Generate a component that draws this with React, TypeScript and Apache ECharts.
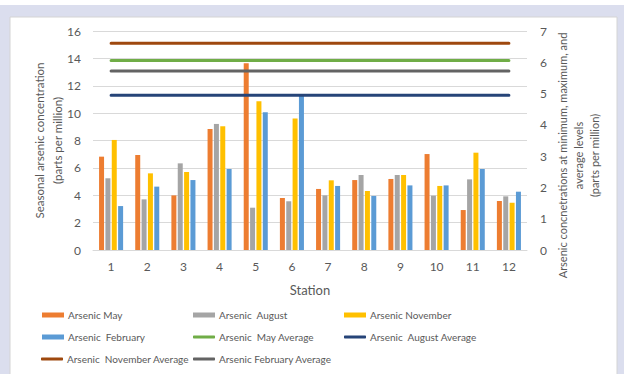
import React, { useEffect, useRef } from "react";
import * as echarts from "echarts";

const stations = ["1", "2", "3", "4", "5", "6", "7", "8", "9", "10", "11", "12"];
const arsenicMay = [6.82, 6.94, 3.99, 8.84, 13.64, 3.8, 4.46, 5.11, 5.19, 7.01, 2.92, 3.58];
const arsenicAugust = [5.24, 3.7, 6.33, 9.21, 3.09, 3.56, 3.99, 5.48, 5.48, 3.97, 5.16, 3.92];
const arsenicNovember = [8.04, 5.6, 5.7, 9.04, 10.86, 9.6, 5.09, 4.31, 5.48, 4.68, 7.11, 3.46];
const arsenicFebruary = [3.21, 4.63, 5.11, 5.92, 10.06, 11.28, 4.68, 3.95, 4.72, 4.72, 5.92, 4.26];
const mayAverage = 6.06;
const augustAverage = 4.95;
const novemberAverage = 6.61;
const februaryAverage = 5.72;

const leftTicks = { min: 0, max: 16, interval: 2 };
const rightTicks = { min: 0, max: 7, interval: 1 };

const FONT = "Lato, 'Liberation Sans', sans-serif";
const TXT = "#595959";

export default function App() {
  const ref = useRef<HTMLDivElement>(null);
  useEffect(() => {
    if (!ref.current) return;
    const chart = echarts.init(ref.current, null, { renderer: "svg" });
    const flat = (v: number) => stations.map(() => v);
    const barSeries = (name: string, data: number[], color: string) => ({
      name,
      type: "bar",
      yAxisIndex: 0,
      data,
      barWidth: 5,
      barGap: "27%",
      itemStyle: { color },
    });
    const lineSeries = (name: string, v: number, color: string) => ({
      name,
      type: "line",
      yAxisIndex: 1,
      data: flat(v),
      symbol: "none",
      lineStyle: { color, width: 3, cap: "round" },
      itemStyle: { color },
      z: 3,
    });
    const legendAt = (name: string, left: number, top: number, isLine: boolean) => ({
      data: [name],
      left,
      top,
      orient: "horizontal",
      icon: isLine ? "roundRect" : "rect",
      itemWidth: 22,
      itemHeight: isLine ? 3 : 5,
      itemGap: 0,
      textStyle: { color: TXT, fontSize: 10, fontFamily: FONT, padding: [0, 0, 0, -1] },
      padding: 0,
      selectedMode: false,
    });
    chart.setOption({
      animation: false,
      backgroundColor: "#dbdeee",
      textStyle: { fontFamily: FONT },
      graphic: [
        { type: "rect", shape: { x: 0, y: 0, width: 624, height: 5 }, style: { fill: "#ffffff" }, z: -10, silent: true },
        {
          type: "rect",
          shape: { x: 10, y: 17, width: 607, height: 362 },
          style: { fill: "#ffffff", stroke: "#d4d4d4", lineWidth: 1 },
          z: -10,
          silent: true,
        },
      ],
      grid: { left: 93, right: 97, top: 31, bottom: 124, outerBoundsMode: "none", containLabel: false },
      legend: [
        legendAt("Arsenic May", 42, 310, false),
        legendAt("Arsenic  August", 193, 310, false),
        legendAt("Arsenic November", 344, 310, false),
        legendAt("Arsenic  February", 42, 332, false),
        legendAt("Arsenic  May Average", 193, 332, true),
        legendAt("Arsenic  August Average", 344, 332, true),
        legendAt("Arsenic  November Average", 41, 354, true),
        legendAt("Arsenic February Average", 193, 354, true),
      ],
      xAxis: {
        type: "category",
        data: stations,
        name: "Station",
        nameLocation: "middle",
        nameGap: 33,
        nameMoveOverlap: false,
        nameTextStyle: { color: TXT, fontSize: 13, fontFamily: FONT },
        axisTick: { show: false },
        axisLine: { lineStyle: { color: "#d9d9d9" } },
        axisLabel: { color: TXT, fontSize: 12, margin: 10, fontFamily: FONT },
      },
      yAxis: [
        {
          type: "value",
          ...leftTicks,
          name: "Seasonal arsenic concentration\n(parts per million)",
          nameLocation: "middle",
          nameGap: 27,
          nameMoveOverlap: false,
          nameRotate: 90,
          nameTextStyle: { color: TXT, fontSize: 11.5, lineHeight: 18, fontFamily: FONT },
          axisLine: { show: false },
          axisTick: { show: false },
          axisLabel: { color: TXT, fontSize: 12, margin: 12, fontFamily: FONT },
          splitLine: { lineStyle: { color: "#d9d9d9" } },
        },
        {
          type: "value",
          ...rightTicks,
          position: "right",
          name: "Arsenic concnetrations at minimum, maximum, and\naverage levels\n(parts per million)",
          nameLocation: "middle",
          nameGap: 27,
          nameMoveOverlap: false,
          nameRotate: 90,
          nameTextStyle: {
            color: TXT,
            fontSize: 11,
            lineHeight: 16,
            fontFamily: FONT,
            align: "center",
            padding: [0, 30, 0, 0],
          },
          axisLine: { show: false },
          axisTick: { show: false },
          axisLabel: { color: TXT, fontSize: 12, margin: 13, fontFamily: FONT },
          splitLine: { show: false },
        },
      ],
      series: [
        barSeries("Arsenic May", arsenicMay, "#ED7D31"),
        barSeries("Arsenic  August", arsenicAugust, "#A5A5A5"),
        barSeries("Arsenic November", arsenicNovember, "#FFC000"),
        barSeries("Arsenic  February", arsenicFebruary, "#5B9BD5"),
        lineSeries("Arsenic  May Average", mayAverage, "#70AD47"),
        lineSeries("Arsenic  August Average", augustAverage, "#264478"),
        lineSeries("Arsenic  November Average", novemberAverage, "#9E480E"),
        lineSeries("Arsenic February Average", februaryAverage, "#636363"),
      ],
    });
    return () => chart.dispose();
  }, []);
  return (
    <div
      ref={ref}
      style={{ position: "absolute", left: 0, top: 0, width: 624, height: 374 }}
    />
  );
}
